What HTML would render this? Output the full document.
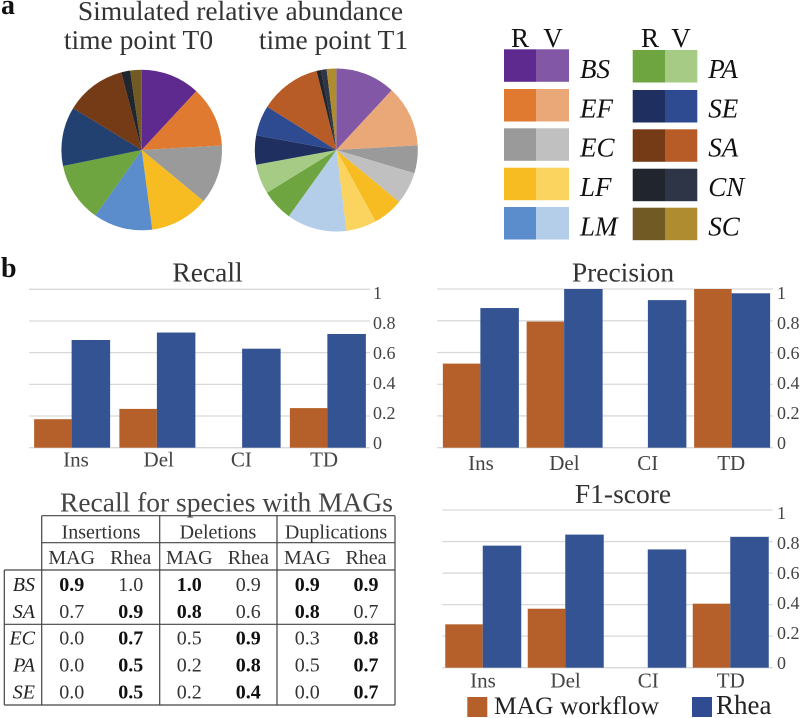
<!DOCTYPE html>
<html lang="en">
<head>
<meta charset="utf-8">
<title>Simulated relative abundance and recall, precision and F1-score</title>
<style>
html,body{margin:0;padding:0;background:#fff;width:800px;height:718px;overflow:hidden}
svg{display:block;filter:blur(.35px)}
text{font-family:"Liberation Serif",serif;fill:#333}
.title{font-size:27.5px;text-anchor:middle;fill:#333}
.lg{font-size:27px;font-style:italic;fill:#111}
.rv{font-size:27px;text-anchor:middle;fill:#111}
.panel{font-size:28px;font-weight:bold;fill:#111}
.c{font-size:20px;text-anchor:middle;fill:#333}
.b{font-size:20px;text-anchor:middle;font-weight:bold;fill:#111}
.r{font-size:20px;text-anchor:end;font-style:italic;fill:#222}
.tl{stroke:#444;stroke-width:1.2;fill:none}
</style>
</head>
<body>
<svg id="figure" width="800" height="718" viewBox="0 0 800 718" xmlns="http://www.w3.org/2000/svg">
  <text class="panel" x="1" y="14">a</text>
  <text class="title" x="240.5" y="20">Simulated relative abundance</text>
  <text class="title" x="138.5" y="49">time point T0</text>
  <text class="title" x="333.5" y="49">time point T1</text>
  <g id="pie-t0"></g>
  <g id="pie-t1"></g>

  <g>
    <text class="rv" x="520" y="47">R</text>
    <text class="rv" x="553" y="47">V</text>
    <text class="rv" x="650" y="47">R</text>
    <text class="rv" x="681" y="47">V</text>
    <g id="legend-entries"></g>
  </g>

  <text class="panel" x="1" y="277">b</text>
  <g id="chart-recall"></g>
  <g id="chart-precision"></g>
  <g id="chart-f1"></g>

  <g>
    <rect x="467.3" y="697" width="20" height="20" fill="#b5602a"/>
    <text x="494" y="714" font-size="25.5" fill="#222" style="fill:#222">MAG workflow</text>
    <rect x="692" y="697" width="20" height="20" fill="#2f4b92"/>
    <text x="716" y="714" font-size="27" style="fill:#222">Rhea</text>
  </g>

  <g>
    <text class="title" x="226.5" y="511.5" style="fill:#444">Recall for species with MAGs</text>
    <g>
      <path class="tl" d="M41.7 515.7H395M41.7 542.7H395M4.3 570H395M4.3 624.3H395M4.3 705H395M4.3 570V705M41.7 515.7V705M159.7 515.7V705M277 515.7V705M395 515.7V705"/>
    </g>
    <g>
      <text class="c" x="101" y="538.3">Insertions</text>
      <text class="c" x="218" y="538.3">Deletions</text>
      <text class="c" x="336" y="538.3">Duplications</text>
    </g>
    <g>
      <text class="c" x="71.7" y="564">MAG</text>
      <text class="c" x="130.7" y="564">Rhea</text>
      <text class="c" x="189.3" y="564">MAG</text>
      <text class="c" x="248.3" y="564">Rhea</text>
      <text class="c" x="307.3" y="564">MAG</text>
      <text class="c" x="366" y="564">Rhea</text>
    </g>
    <g>
      <text class="r" x="35" y="591">BS</text>
      <text class="b" x="71.7" y="591">0.9</text>
      <text class="c" x="130.7" y="591">1.0</text>
      <text class="b" x="189.3" y="591">1.0</text>
      <text class="c" x="248.3" y="591">0.9</text>
      <text class="b" x="307.3" y="591">0.9</text>
      <text class="b" x="366" y="591">0.9</text>
    </g>
    <g>
      <text class="r" x="35" y="618">SA</text>
      <text class="c" x="71.7" y="618">0.7</text>
      <text class="b" x="130.7" y="618">0.9</text>
      <text class="b" x="189.3" y="618">0.8</text>
      <text class="c" x="248.3" y="618">0.6</text>
      <text class="b" x="307.3" y="618">0.8</text>
      <text class="c" x="366" y="618">0.7</text>
    </g>
    <g>
      <text class="r" x="35" y="644.7">EC</text>
      <text class="c" x="71.7" y="644.7">0.0</text>
      <text class="b" x="130.7" y="644.7">0.7</text>
      <text class="c" x="189.3" y="644.7">0.5</text>
      <text class="b" x="248.3" y="644.7">0.9</text>
      <text class="c" x="307.3" y="644.7">0.3</text>
      <text class="b" x="366" y="644.7">0.8</text>
    </g>
    <g>
      <text class="r" x="35" y="671.7">PA</text>
      <text class="c" x="71.7" y="671.7">0.0</text>
      <text class="b" x="130.7" y="671.7">0.5</text>
      <text class="c" x="189.3" y="671.7">0.2</text>
      <text class="b" x="248.3" y="671.7">0.8</text>
      <text class="c" x="307.3" y="671.7">0.5</text>
      <text class="b" x="366" y="671.7">0.7</text>
    </g>
    <g>
      <text class="r" x="35" y="698.3">SE</text>
      <text class="c" x="71.7" y="698.3">0.0</text>
      <text class="b" x="130.7" y="698.3">0.5</text>
      <text class="c" x="189.3" y="698.3">0.2</text>
      <text class="b" x="248.3" y="698.3">0.4</text>
      <text class="c" x="307.3" y="698.3">0.0</text>
      <text class="b" x="366" y="698.3">0.7</text>
    </g>
  </g>
</svg>

<script>
// ---- data ----
const categories = ["Ins", "Del", "CI", "TD"];
const yTicks = [0, 0.2, 0.4, 0.6, 0.8, 1];
const recallMag = [0.18, 0.245, 0, 0.25];
const recallRhea = [0.68, 0.727, 0.625, 0.718];
const precisionMag = [0.53, 0.795, 0, 1.0];
const precisionRhea = [0.88, 1.0, 0.93, 0.973];
const f1Mag = [0.275, 0.374, 0, 0.406];
const f1Rhea = [0.774, 0.844, 0.75, 0.83];

const t0Species = ["BS", "EF", "EC", "LF", "LM", "PA", "SE", "SA", "CN", "SC"];
const t0Values = [11.9, 12.2, 11.9, 11.9, 11.9, 12.0, 11.9, 12.2, 1.8, 2.3];
const t1Species = ["BS-V", "EF-V", "EC-R", "EC-V", "LF-R", "LF-V", "LM-V", "PA-R", "PA-V", "SE-R", "SE-V", "SA-V", "CN-R", "CN-V", "SC-V"];
const t1Values = [11.9, 12.2, 5.5, 6.4, 6.0, 6.0, 11.9, 6.3, 5.9, 5.8, 6.0, 12.2, 0.9, 1.1, 1.9];

const legendCol1 = ["BS", "EF", "EC", "LF", "LM"];
const legendCol2 = ["PA", "SE", "SA", "CN", "SC"];

// ---- styles ----
const NS = "http://www.w3.org/2000/svg";
const colorR = {BS:"#5f2a8f",EF:"#df7a30",EC:"#9a9a9a",LF:"#f6bc22",LM:"#5b8ccb",PA:"#6ea540",SE:"#1f2f60",SA:"#753a16",CN:"#20252e",SC:"#725a24"};
const colorV = {BS:"#8157a6",EF:"#eaa878",EC:"#c0c0c0",LF:"#fbd460",LM:"#b4cde8",PA:"#a5cb85",SE:"#2e4a90",SA:"#b85c27",CN:"#2e3547",SC:"#b08c30"};
const t0SeColor = "#224170";

function svgEl(tag, attrs) {
  const e = document.createElementNS(NS, tag);
  for (const k in attrs) e.setAttribute(k, attrs[k]);
  return e;
}

function drawPie(parent, cx, cy, r, labels, values, colorOf) {
  const total = values.reduce((a, b) => a + b, 0);
  let acc = 0;
  values.forEach((v, i) => {
    const a0 = acc / total * 2 * Math.PI;
    acc += v;
    const a1 = acc / total * 2 * Math.PI;
    const large = a1 - a0 > Math.PI ? 1 : 0;
    const d = "M" + cx + " " + cy +
      "L" + (cx + r * Math.sin(a0)) + " " + (cy - r * Math.cos(a0)) +
      "A" + r + " " + r + " 0 " + large + " 1 " + (cx + r * Math.sin(a1)) + " " + (cy - r * Math.cos(a1)) + "Z";
    const p = svgEl("path", {d: d, fill: colorOf(labels[i], i)});
    
    
    parent.appendChild(p);
  });
}

drawPie(document.getElementById("pie-t0"), 141.7, 150, 80.3, t0Species, t0Values,
  (s) => s === "SE" ? t0SeColor : colorR[s]);
drawPie(document.getElementById("pie-t1"), 336.3, 150, 81.5, t1Species, t1Values,
  (s) => { const q = s.split("-"); return (q[1] === "R" ? colorR : colorV)[q[0]]; });

function drawLegendColumn(names, x0, x1, x2, textX, tops, baselines) {
  const parent = document.getElementById("legend-entries");
  names.forEach((n, i) => {
    const h = 32.5;
    const a = svgEl("rect", {x: x0, y: tops[i], width: x1 - x0, height: h, fill: colorR[n]});
    
    
    parent.appendChild(a);
    const b = svgEl("rect", {x: x1, y: tops[i], width: x2 - x1, height: h, fill: colorV[n]});
    
    
    parent.appendChild(b);
    const t = svgEl("text", {x: textX, y: baselines[i], class: "lg"});
    t.textContent = n;
    
    
    parent.appendChild(t);
  });
}
drawLegendColumn(legendCol1, 504, 536, 569, 580, [49.3, 89, 128.3, 167.7, 207], [78, 117.3, 156.7, 196, 235.3]);
drawLegendColumn(legendCol2, 632.7, 665, 697.3, 708.3, [50, 90, 129.3, 168.7, 207.7], [78, 117.3, 156.7, 196, 235.3]);

function drawBarChart(o) {
  const g = document.getElementById(o.id);
  const yScale = (v) => o.y0 + (o.y1 - o.y0) * v;
  const xBand = (i) => o.plotL + (o.plotR - o.plotL) * (i + 0.5) / categories.length;

  const title = svgEl("text", {x: o.titleX, y: o.titleY, class: "title"});
  title.textContent = o.title;
  
  
  g.appendChild(title);

  yTicks.forEach((t) => {
    const line = svgEl("line", {x1: o.gridL, x2: o.gridR, y1: yScale(t), y2: yScale(t), stroke: "#d9d9d9", "stroke-width": 1.3});
    
    
    g.appendChild(line);
    const lab = svgEl("text", {x: o.tickX, y: o.tick0 + (o.tick1 - o.tick0) * t, "font-size": 18, style: "fill:#444"});
    lab.textContent = String(t);
    
    
    g.appendChild(lab);
  });

  categories.forEach((c, i) => {
    const xc = xBand(i);
    const m = svgEl("rect", {x: xc - 37.5, y: yScale(o.mag[i]), width: 37.5, height: Math.max(0, o.y0 - yScale(o.mag[i])), fill: "#b5602a"});
    
    
    g.appendChild(m);
    const r = svgEl("rect", {x: xc, y: yScale(o.rhea[i]), width: 38.5, height: Math.max(0, o.y0 - yScale(o.rhea[i])), fill: "#345392"});
    
    
    g.appendChild(r);
    const lab = svgEl("text", {x: o.catX0 + o.catStep * i, y: o.catY, "font-size": 21, "text-anchor": "middle", style: "fill:#444"});
    lab.textContent = c;
    
    
    g.appendChild(lab);
  });
}

drawBarChart({id: "chart-recall", key: "recall", title: "Recall", mag: recallMag, rhea: recallRhea,
  titleX: 207.5, titleY: 281.5, gridL: 29, gridR: 370, plotL: 29, plotR: 370, y0: 447.7, y1: 289.3,
  tickX: 373, tick0: 449, tick1: 299, catX0: 76, catStep: 82.7, catY: 466.7});
drawBarChart({id: "chart-precision", key: "precision", title: "Precision", mag: precisionMag, rhea: precisionRhea,
  titleX: 623, titleY: 281.5, gridL: 437, gridR: 773, plotL: 438.5, plotR: 773.5, y0: 447.7, y1: 289,
  tickX: 777, tick0: 449, tick1: 299, catX0: 481, catStep: 83.4, catY: 470});
drawBarChart({id: "chart-f1", key: "f1", title: "F1-score", mag: f1Mag, rhea: f1Rhea,
  titleX: 623, titleY: 503, gridL: 442.3, gridR: 772.7, plotL: 441.5, plotR: 771.5, y0: 667.7, y1: 510,
  tickX: 777, tick0: 669, tick1: 519, catX0: 483, catStep: 82.6, catY: 687.7});
</script>
</body>
</html>
